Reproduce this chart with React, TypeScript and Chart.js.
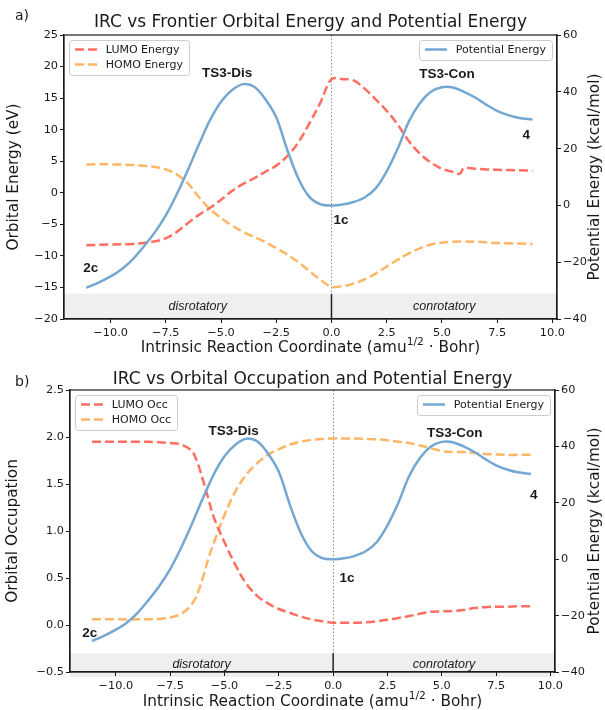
import React, { useEffect, useRef } from "react";
import { Chart, registerables } from "chart.js";

Chart.register(...registerables);

const W = 605;

// ---- axis ticks ----
const X_TICKS = [-10, -7.5, -5, -2.5, 0, 2.5, 5, 7.5, 10];
const X_MIN = -12.11;
const X_MAX = 10.21;
const PE_TICKS = [-40, -20, 0, 20, 40, 60];
const ENERGY_TICKS = [-20, -15, -10, -5, 0, 5, 10, 15, 20, 25];
const OCC_TICKS = [-0.5, 0, 0.5, 1, 1.5, 2, 2.5];

// ---- potential energy (kcal/mol) ----
const PE_X = [-11.1, -10.5, -10, -9.5, -9, -8.5, -8, -7.5, -7, -6.5, -6, -5.5, -5, -4.5, -4, -3.5, -3, -2.5, -2, -1.5, -1, -0.5, 0, 0.5, 1, 1.5, 2, 2.5, 3, 3.5, 4, 4.5, 5, 5.5, 6, 6.5, 7, 7.5, 8, 8.5, 9.1];
const PE_Y = [-29, -27, -25, -22.5, -19, -14.5, -9.5, -3.5, 4, 12.5, 21.5, 30, 36.5, 40.6, 42.7, 41.8, 37.5, 31, 19.5, 9.5, 3, 0.4, 0, 0.3, 1.2, 2.8, 6, 12, 20, 29.5, 36, 40, 41.6, 41.5, 40, 38, 35.5, 33.3, 31.8, 30.8, 30.2];

// ---- frontier orbital energies (eV) ----
const LUMO_E_X = [-11.1, -10, -9, -8.5, -8, -7.5, -7, -6.5, -6, -5.5, -5, -4.5, -4, -3.5, -3, -2.5, -2, -1.5, -1, -0.5, 0, 0.5, 1, 1.5, 2, 2.5, 3, 3.5, 4, 4.5, 5, 5.5, 5.8, 6, 6.5, 7, 7.5, 8, 8.5, 9.1];
const LUMO_E_Y = [-8.3, -8.2, -8.1, -7.95, -7.7, -7.2, -6.2, -4.8, -3.5, -2.4, -1.1, 0.3, 1.4, 2.3, 3.3, 4.3, 5.8, 8, 11, 14.3, 18, 18, 17.8, 16.5, 14.8, 13, 10.8, 8.2, 6.2, 4.8, 3.8, 3.3, 3.0, 3.9, 3.8, 3.7, 3.65, 3.6, 3.55, 3.5];
const HOMO_E_X = [-11.1, -10, -9, -8.5, -8, -7.5, -7, -6.5, -6, -5.5, -5, -4.5, -4, -3.5, -3, -2.5, -2, -1.5, -1, -0.5, 0, 0.5, 1, 1.5, 2, 2.5, 3, 3.5, 4, 4.5, 5, 5.5, 6, 6.5, 7, 7.5, 8, 8.5, 9.1];
const HOMO_E_Y = [4.5, 4.5, 4.4, 4.3, 4.1, 3.7, 2.9, 1.5, -0.7, -2.6, -4, -5.2, -6.2, -7, -7.8, -8.8, -9.8, -11, -12.4, -13.8, -14.9, -14.8, -14.4, -13.7, -12.8, -11.7, -10.6, -9.6, -8.8, -8.2, -7.9, -7.75, -7.7, -7.75, -7.85, -7.95, -8.0, -8.05, -8.1];

// ---- orbital occupations ----
const OCC_X = [-11.1, -10, -9, -8, -7.5, -7, -6.5, -6.25, -6, -5.75, -5.5, -5, -4.5, -4, -3.5, -3, -2.5, -2, -1.5, -1, -0.5, 0, 0.5, 1, 1.5, 2, 2.5, 3, 3.5, 4, 4.5, 5, 5.5, 6, 6.5, 7, 7.5, 8, 8.5, 9.1];
const LUMO_OCC = [1.95, 1.95, 1.95, 1.945, 1.935, 1.92, 1.85, 1.73, 1.55, 1.35, 1.15, 0.88, 0.64, 0.44, 0.31, 0.23, 0.17, 0.13, 0.09, 0.06, 0.04, 0.025, 0.025, 0.025, 0.03, 0.04, 0.055, 0.075, 0.095, 0.12, 0.14, 0.145, 0.15, 0.16, 0.18, 0.19, 0.195, 0.195, 0.2, 0.2];
const HOMO_OCC = [0.06, 0.06, 0.06, 0.065, 0.08, 0.12, 0.22, 0.33, 0.5, 0.7, 0.87, 1.17, 1.42, 1.6, 1.72, 1.81, 1.87, 1.92, 1.95, 1.97, 1.98, 1.985, 1.985, 1.985, 1.98, 1.975, 1.965, 1.95, 1.935, 1.91, 1.88, 1.85, 1.84, 1.84, 1.83, 1.82, 1.815, 1.81, 1.81, 1.81];

// ---- annotation labels (data coords, left axis) ----
const NOTE_TEXT = ["TS3-Dis", "TS3-Con", "1c", "4", "2c"];
const NOTE_X_A = [-4.72, 5.23, 0.43, 8.82, -10.9];
const NOTE_Y_A = [19.0, 18.8, -4.3, 9.15, -11.95];
const NOTE_X_B = [-4.58, 5.6, 0.64, 9.23, -11.2];
const NOTE_Y_B = [2.056, 2.04, 0.5, 1.383, -0.09];

const RED = "#FF6F61";
const ORANGE = "#FFB566";
const BLUE = "#75A7D3";
const INK = "#1a1a1a";
const FONT = '"DejaVu Sans", sans-serif';
const ARIAL = '"Liberation Sans", Arial, sans-serif';

type Series = { label: string; xs: number[]; ys: number[]; color: string; dashed: boolean; axis: string };

interface Panel {
  top: number;
  height: number;
  area: { left: number; right: number; top: number; bottom: number };
  letter: string;
  letterBase: number;
  title: string;
  titleBase: number;
  yTitle: string;
  yTitleX: number;
  yMin: number;
  yMax: number;
  yTicks: number[];
  yDec: number;
  bandTop: number;
  bandExt: number;
  bandTextY: number;
  xTitleBase: number;
  series: Series[];
  noteX: number[];
  noteY: number[];
}

function fmt(v: number, d: number) {
  const s = Math.abs(v).toFixed(d);
  return (v < -1e-9 ? "\u2212" : "") + s;
}

const potential: Series = { label: "Potential Energy", xs: PE_X, ys: PE_Y, color: BLUE, dashed: false, axis: "y1" };

const PANELS: Panel[] = [
  {
    top: 0,
    height: 362,
    area: { left: 64, right: 557, top: 35, bottom: 319 },
    letter: "a)",
    letterBase: 20,
    title: "IRC vs Frontier Orbital Energy and Potential Energy",
    titleBase: 27,
    yTitle: "Orbital Energy (eV)",
    yTitleX: 14,
    yMin: -20,
    yMax: 25,
    yTicks: ENERGY_TICKS,
    yDec: 0,
    bandTop: -16,
    bandExt: 0,
    bandTextY: -18,
    xTitleBase: 352,
    series: [
      potential,
      { label: "LUMO Energy", xs: LUMO_E_X, ys: LUMO_E_Y, color: RED, dashed: true, axis: "y" },
      { label: "HOMO Energy", xs: HOMO_E_X, ys: HOMO_E_Y, color: ORANGE, dashed: true, axis: "y" },
    ],
    noteX: NOTE_X_A,
    noteY: NOTE_Y_A,
  },
  {
    top: 362,
    height: 348,
    area: { left: 70, right: 555, top: 390, bottom: 672 },
    letter: "b)",
    letterBase: 386,
    title: "IRC vs Orbital Occupation and Potential Energy",
    titleBase: 384,
    yTitle: "Orbital Occupation",
    yTitleX: 13,
    yMin: -0.5,
    yMax: 2.5,
    yTicks: OCC_TICKS,
    yDec: 1,
    bandTop: -0.3,
    bandExt: 5,
    bandTextY: -0.425,
    xTitleBase: 706,
    series: [
      potential,
      { label: "LUMO Occ", xs: OCC_X, ys: LUMO_OCC, color: RED, dashed: true, axis: "y" },
      { label: "HOMO Occ", xs: OCC_X, ys: HOMO_OCC, color: ORANGE, dashed: true, axis: "y" },
    ],
    noteX: NOTE_X_B,
    noteY: NOTE_Y_B,
  },
];

function roundRectPath(ctx: CanvasRenderingContext2D, x: number, y: number, w: number, h: number, r: number) {
  ctx.beginPath();
  ctx.moveTo(x + r, y);
  ctx.lineTo(x + w - r, y);
  ctx.quadraticCurveTo(x + w, y, x + w, y + r);
  ctx.lineTo(x + w, y + h - r);
  ctx.quadraticCurveTo(x + w, y + h, x + w - r, y + h);
  ctx.lineTo(x + r, y + h);
  ctx.quadraticCurveTo(x, y + h, x, y + h - r);
  ctx.lineTo(x, y + r);
  ctx.quadraticCurveTo(x, y, x + r, y);
  ctx.closePath();
}

function drawLegend(ctx: CanvasRenderingContext2D, items: Series[], edgeX: number, top: number, alignRight: boolean) {
  const fs = 11;
  ctx.save();
  ctx.font = `${fs}px ${FONT}`;
  const tw = Math.max(...items.map((i) => ctx.measureText(i.label).width));
  const padX = 6;
  const hl = 22;
  const gap = 8.8;
  const w = padX + hl + gap + tw + padX;
  const h = 20 + 15 * (items.length - 1);
  const x0 = alignRight ? edgeX - w : edgeX;
  roundRectPath(ctx, Math.round(x0) + 0.5, Math.round(top) + 0.5, Math.round(w), Math.round(h), 3);
  ctx.fillStyle = "rgba(255,255,255,0.8)";
  ctx.fill();
  ctx.strokeStyle = "#cccccc";
  ctx.lineWidth = 1;
  ctx.stroke();
  items.forEach((it, i) => {
    const cy = top + 10 + 15 * i;
    ctx.strokeStyle = it.color;
    ctx.lineWidth = 2.5;
    ctx.lineCap = "butt";
    ctx.setLineDash(it.dashed ? [9, 4] : []);
    ctx.beginPath();
    ctx.moveTo(x0 + padX, cy);
    ctx.lineTo(x0 + padX + hl, cy);
    ctx.stroke();
    ctx.setLineDash([]);
    ctx.fillStyle = INK;
    ctx.textAlign = "left";
    ctx.textBaseline = "middle";
    ctx.fillText(it.label, x0 + padX + hl + gap, cy + 0.5);
  });
  ctx.restore();
}

function buildChart(canvas: HTMLCanvasElement, p: Panel) {
  const A = p.area;
  const off = p.top;
  const tickFont = { family: '"DejaVu Sans", sans-serif', size: 11.3 };

  const deco = {
    id: "deco",
    beforeDraw(chart: any) {
      const ctx: CanvasRenderingContext2D = chart.ctx;
      const { left, right, top, bottom } = chart.chartArea;
      const xs = chart.scales.x;
      const ys = chart.scales.y;
      const bandY = ys.getPixelForValue(p.bandTop);
      ctx.save();
      ctx.fillStyle = "#efefef";
      ctx.fillRect(left, bandY, right - left, bottom + p.bandExt - bandY);
      const x0 = Math.round(xs.getPixelForValue(0)) + 0.5;
      ctx.strokeStyle = "#8c8c8c";
      ctx.lineWidth = 1;
      ctx.setLineDash([1.5, 2]);
      ctx.beginPath();
      ctx.moveTo(x0, top);
      ctx.lineTo(x0, bandY);
      ctx.stroke();
      ctx.restore();
    },
    afterDraw(chart: any) {
      const ctx: CanvasRenderingContext2D = chart.ctx;
      const { left, right, top, bottom } = chart.chartArea;
      const xs = chart.scales.x;
      const ys = chart.scales.y;
      ctx.save();
      // frame
      ctx.strokeStyle = INK;
      ctx.lineWidth = 1.2;
      ctx.strokeRect(left, top, right - left, bottom - top);
      // solid separator inside band
      const bandY = ys.getPixelForValue(p.bandTop);
      const x0 = xs.getPixelForValue(0);
      ctx.strokeStyle = "#222";
      ctx.lineWidth = 1.5;
      ctx.beginPath();
      ctx.moveTo(x0, bandY);
      ctx.lineTo(x0, bottom);
      ctx.stroke();

      // band texts
      ctx.fillStyle = INK;
      ctx.font = `italic 12.5px ${ARIAL}`;
      ctx.textAlign = "center";
      ctx.textBaseline = "middle";
      const by = ys.getPixelForValue(p.bandTextY);
      ctx.fillText("disrotatory", xs.getPixelForValue(X_MIN / 2), by);
      ctx.fillText("conrotatory", xs.getPixelForValue(X_MAX / 2), by);

      // annotations
      ctx.font = `bold 13.5px ${ARIAL}`;
      NOTE_TEXT.forEach((t, i) => {
        ctx.fillText(t, xs.getPixelForValue(p.noteX[i]), ys.getPixelForValue(p.noteY[i]));
      });

      // legends
      drawLegend(ctx, p.series.slice(1), left + 5, top + 4.5, false);
      drawLegend(ctx, [p.series[0]], right - 5, top + 4.5, true);

      // title + panel letter
      ctx.fillStyle = INK;
      ctx.textBaseline = "alphabetic";
      ctx.textAlign = "center";
      ctx.font = `17px ${FONT}`;
      ctx.fillText(p.title, (left + right) / 2, p.titleBase - off);
      ctx.textAlign = "left";
      ctx.font = `14px ${FONT}`;
      ctx.fillText(p.letter, 15, p.letterBase - off);

      // x title with superscript
      const f = 15.3;
      const s1 = "Intrinsic Reaction Coordinate (amu";
      const sup = "1/2";
      const s2 = " \u00B7 Bohr)";
      ctx.font = `${f}px ${FONT}`;
      const w1 = ctx.measureText(s1).width;
      const w2 = ctx.measureText(s2).width;
      ctx.font = `${f * 0.7}px ${FONT}`;
      const ws = ctx.measureText(sup).width;
      const total = w1 + ws + w2;
      let cx = (left + right) / 2 - total / 2;
      const base = p.xTitleBase - off;
      ctx.font = `${f}px ${FONT}`;
      ctx.fillText(s1, cx, base);
      cx += w1;
      ctx.font = `${f * 0.7}px ${FONT}`;
      ctx.fillText(sup, cx, base - f * 0.45);
      cx += ws;
      ctx.font = `${f}px ${FONT}`;
      ctx.fillText(s2, cx, base);

      // y titles
      const midY = (top + bottom) / 2;
      ctx.textAlign = "center";
      ctx.textBaseline = "middle";
      ctx.font = `${f}px ${FONT}`;
      ctx.save();
      ctx.translate(p.yTitleX, midY);
      ctx.rotate(-Math.PI / 2);
      ctx.fillText(p.yTitle, 0, 0);
      ctx.restore();
      ctx.save();
      ctx.translate(595, midY);
      ctx.rotate(-Math.PI / 2);
      ctx.fillText("Potential Energy (kcal/mol)", 0, 0);
      ctx.restore();
      ctx.restore();
    },
  };

  const axisCommon = {
    grid: { drawOnChartArea: false, drawTicks: true, tickLength: 4, color: INK, lineWidth: 1 },
    border: { display: true, color: INK, width: 1.2 },
  };

  return new Chart(canvas, {
    type: "line",
    data: {
      datasets: p.series.map((s) => ({
        label: s.label,
        data: s.xs.map((x, i) => ({ x, y: s.ys[i] })),
        borderColor: s.color,
        backgroundColor: s.color,
        borderWidth: 2.5,
        borderDash: s.dashed ? [9, 4] : [],
        borderCapStyle: "butt",
        pointRadius: 0,
        fill: false,
        tension: 0.35,
        yAxisID: s.axis,
      })),
    },
    options: {
      responsive: false,
      animation: false,
      devicePixelRatio: 1,
      events: [],
      layout: { padding: { top: A.top - off, left: 0, right: 0, bottom: 0 } },
      plugins: { legend: { display: false }, tooltip: { enabled: false }, title: { display: false } },
      scales: {
        x: {
          type: "linear",
          min: X_MIN,
          max: X_MAX,
          afterBuildTicks: (s: any) => {
            s.ticks = X_TICKS.map((v) => ({ value: v }));
          },
          afterFit: (s: any) => {
            s.height = off + p.height - A.bottom;
          },
          ticks: { font: tickFont, color: INK, padding: 3, maxRotation: 0, minRotation: 0, autoSkip: false, callback: (v: any) => fmt(Number(v), 1) },
          ...axisCommon,
        },
        y: {
          type: "linear",
          position: "left",
          min: p.yMin,
          max: p.yMax,
          afterBuildTicks: (s: any) => {
            s.ticks = p.yTicks.map((v) => ({ value: v }));
          },
          afterFit: (s: any) => {
            s.width = A.left;
          },
          ticks: { font: tickFont, color: INK, padding: 2, autoSkip: false, callback: (v: any) => fmt(Number(v), p.yDec) },
          ...axisCommon,
        },
        y1: {
          type: "linear",
          position: "right",
          min: -40,
          max: 60,
          afterBuildTicks: (s: any) => {
            s.ticks = PE_TICKS.map((v) => ({ value: v }));
          },
          afterFit: (s: any) => {
            s.width = W - A.right;
          },
          ticks: { font: tickFont, color: INK, padding: 2, autoSkip: false, callback: (v: any) => fmt(Number(v), 0) },
          ...axisCommon,
        },
      },
    } as any,
    plugins: [deco],
  });
}

function PanelChart({ p }: { p: Panel }) {
  const ref = useRef<HTMLCanvasElement | null>(null);
  useEffect(() => {
    if (!ref.current) return;
    const c = buildChart(ref.current, p);
    return () => c.destroy();
  }, [p]);
  return (
    <canvas
      ref={ref}
      width={W}
      height={p.height}
      style={{ position: "absolute", left: 0, top: p.top, width: W, height: p.height, display: "block" }}
    />
  );
}

export default function App() {
  return (
    <div style={{ position: "fixed", left: 0, top: 0, width: W, height: 710, background: "#fff" }}>
      {PANELS.map((p) => (
        <PanelChart key={p.letter} p={p} />
      ))}
    </div>
  );
}
